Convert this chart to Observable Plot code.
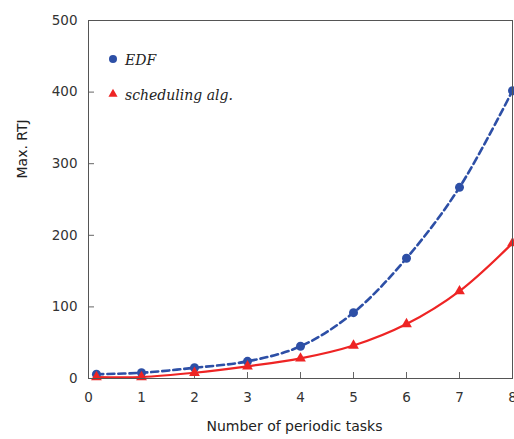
<!DOCTYPE html>
<html>
<head>
<meta charset="utf-8">
<script src="https://cdn.jsdelivr.net/npm/d3@7"></script>
<script src="https://cdn.jsdelivr.net/npm/@observablehq/plot@0.6"></script>
<style>
  body { margin: 0; background: #fff; }
  #wrap { position: relative; width: 514px; height: 439px; }
  #legend { position: absolute; left: 106px; top: 52px; font-family: "DejaVu Serif", serif; font-style: italic; font-size: 14px; color: #222; }
  #legend div { height: 35px; display: flex; align-items: flex-start; }
  #legend svg { margin-right: 5px; }
</style>
</head>
<body>
<div id="wrap"></div>
<script>
const tasks = [0.15, 1, 2, 3, 4, 5, 6, 7, 8];
const edf = [6, 8, 15, 24, 45, 92, 168, 267, 402];
const sched = [2, 2, 8, 17, 28, 46, 76, 122, 189];
const xTicks = [0, 1, 2, 3, 4, 5, 6, 7, 8];
const yTicks = [0, 100, 200, 300, 400, 500];
const seriesNames = ["EDF", "scheduling alg."];
const xLabel = "Number of periodic tasks";
const yLabel = "Max. RTJ";
const blue = "#2d4fa6";
const red = "#ee2424";

const edfData = tasks.map((t, i) => ({x: t, y: edf[i]}));
const schedData = tasks.map((t, i) => ({x: t, y: sched[i]}));

const chart = Plot.plot({
  width: 514,
  height: 439,
  marginLeft: 88,
  marginRight: 2,
  marginTop: 20,
  marginBottom: 61,
  style: {fontFamily: "'DejaVu Sans', sans-serif", fontSize: "13.5px", color: "#333", background: "#fff"},
  x: {domain: [0, 8]},
  y: {domain: [0, 500]},
  marks: [
    Plot.axisX({ticks: xTicks, tickSize: -6, tickPadding: 20, label: null, stroke: "#666", fill: "#333"}),
    Plot.axisY({ticks: yTicks, tickSize: -6, tickPadding: 17, label: null, stroke: "#666", fill: "#333"}),
    Plot.line(edfData, {x: "x", y: "y", stroke: blue, strokeWidth: 2.6, strokeDasharray: "7,4", curve: "catmull-rom"}),
    Plot.line(schedData, {x: "x", y: "y", stroke: red, strokeWidth: 2.2, curve: "catmull-rom"}),
    Plot.dot(edfData, {x: "x", y: "y", r: 4.5, fill: blue, stroke: "none"}),
    Plot.dot(schedData, {x: "x", y: "y", r: 4, symbol: "triangle", fill: red, stroke: "none"}),
    Plot.frame({stroke: "#555", strokeWidth: 1}),
    Plot.text([xLabel], {frameAnchor: "bottom", dy: 52, dx: -6, fontSize: 14, fill: "#222", text: d => d}),
    Plot.text([yLabel], {frameAnchor: "left", rotate: -90, dx: -66, dy: -21, fontSize: 14, fill: "#222", text: d => d})
  ]
});
const wrap = document.getElementById("wrap");
wrap.appendChild(chart);

const legend = document.createElement("div");
legend.id = "legend";
legend.innerHTML = `
  <div><svg width="14" height="14" viewBox="-7 -7 14 14"><circle r="4" fill="${blue}"/></svg><span>${seriesNames[0]}</span></div>
  <div><svg width="14" height="14" viewBox="-7 -7 14 14"><path d="${d3.symbol(d3.symbolTriangle, 36)()}" fill="${red}"/></svg><span>${seriesNames[1]}</span></div>`;
wrap.appendChild(legend);
</script>
</body>
</html>
